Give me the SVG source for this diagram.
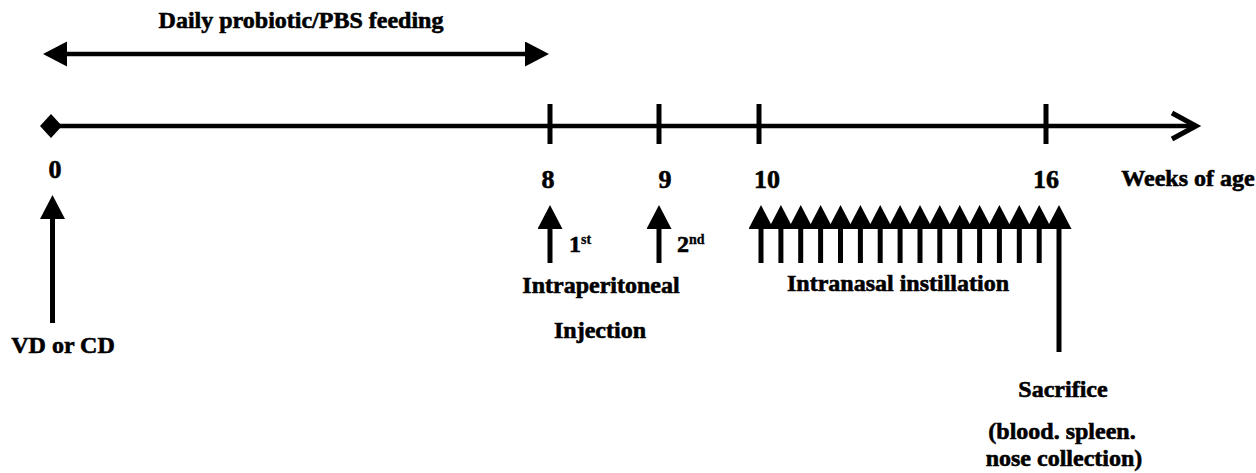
<svg xmlns="http://www.w3.org/2000/svg" width="1256" height="473" viewBox="0 0 1256 473">
<style>
text{font-family:"Liberation Serif","Times New Roman",serif;font-weight:bold;fill:#000;stroke:#000;stroke-width:0.6;}
.lbl{font-size:24px;}
.num{font-size:26px;}
.sup{font-size:14px;stroke-width:0.3;}
.ln{stroke:#000;stroke-width:4.5;fill:none;}
.sh{stroke:#000;stroke-width:5;fill:none;}
</style>
<defs>
<marker id="tri" markerUnits="userSpaceOnUse" markerWidth="24" markerHeight="26" refX="0" refY="12.5" orient="auto-start-reverse" viewBox="0 0 24 26">
<path d="M0,0 L24,12.5 L0,25 Z" fill="#000"/>
</marker>
</defs>
<rect width="1256" height="473" fill="#fff"/>

<g id="feeding">
<line class="ln" x1="67" y1="54" x2="525" y2="54" marker-start="url(#tri)" marker-end="url(#tri)"/>
<text class="lbl" x="301" y="28" text-anchor="middle">Daily probiotic/PBS feeding</text>
</g>

<g id="connectors">
<g id="timeline">
<path d="M40,126 L51,114 L62,126 L51,138 Z" fill="#000"/>
<line class="ln" x1="55" y1="126" x2="1194" y2="126"/>
<path d="M1172,113 L1196,126 L1172,139" class="sh" stroke-linejoin="miter"/>
<line class="sh" x1="550" y1="104" x2="550" y2="144"/>
<line class="sh" x1="659" y1="104" x2="659" y2="144"/>
<line class="sh" x1="759" y1="104" x2="759" y2="144"/>
<line class="sh" x1="1046" y1="104" x2="1046" y2="144"/>
</g>
<g id="arrow-birth"><line class="sh" x1="52.5" y1="323" x2="52.5" y2="219" marker-end="url(#tri)"/></g>
<g id="arrow-ip1"><line class="sh" x1="550" y1="263" x2="550" y2="229" marker-end="url(#tri)"/></g>
<g id="arrow-ip2"><line class="sh" x1="659" y1="263" x2="659" y2="229" marker-end="url(#tri)"/></g>
<g id="arrows-intranasal">
<line class="sh" x1="761" y1="263" x2="761" y2="229" marker-end="url(#tri)"/>
<line class="sh" x1="780.9" y1="263" x2="780.9" y2="229" marker-end="url(#tri)"/>
<line class="sh" x1="800.7" y1="263" x2="800.7" y2="229" marker-end="url(#tri)"/>
<line class="sh" x1="820.6" y1="263" x2="820.6" y2="229" marker-end="url(#tri)"/>
<line class="sh" x1="840.5" y1="263" x2="840.5" y2="229" marker-end="url(#tri)"/>
<line class="sh" x1="860.4" y1="263" x2="860.4" y2="229" marker-end="url(#tri)"/>
<line class="sh" x1="880.2" y1="263" x2="880.2" y2="229" marker-end="url(#tri)"/>
<line class="sh" x1="900.1" y1="263" x2="900.1" y2="229" marker-end="url(#tri)"/>
<line class="sh" x1="920" y1="263" x2="920" y2="229" marker-end="url(#tri)"/>
<line class="sh" x1="939.8" y1="263" x2="939.8" y2="229" marker-end="url(#tri)"/>
<line class="sh" x1="959.7" y1="263" x2="959.7" y2="229" marker-end="url(#tri)"/>
<line class="sh" x1="979.6" y1="263" x2="979.6" y2="229" marker-end="url(#tri)"/>
<line class="sh" x1="999.4" y1="263" x2="999.4" y2="229" marker-end="url(#tri)"/>
<line class="sh" x1="1019.3" y1="263" x2="1019.3" y2="229" marker-end="url(#tri)"/>
<line class="sh" x1="1039.2" y1="263" x2="1039.2" y2="229" marker-end="url(#tri)"/>
<line class="sh" x1="1059" y1="352" x2="1059" y2="229" marker-end="url(#tri)"/>
</g>
</g>

<g id="week-labels">
<text class="num" x="55" y="178" text-anchor="middle">0</text>
<text class="num" x="548" y="188" text-anchor="middle">8</text>
<text class="num" x="665" y="188" text-anchor="middle">9</text>
<text class="num" x="767" y="188" text-anchor="middle">10</text>
<text class="num" x="1046" y="188" text-anchor="middle">16</text>
<text class="lbl" x="1188" y="186" text-anchor="middle">Weeks of age</text>
</g>

<g id="birth"><text class="lbl" x="63" y="353" text-anchor="middle">VD or CD</text></g>

<g id="ip-injection">
<text class="lbl" x="569" y="252">1<tspan class="sup" dy="-8">st</tspan></text>
<text class="lbl" x="677" y="252">2<tspan class="sup" dy="-8">nd</tspan></text>
<text class="lbl" x="601" y="293" text-anchor="middle">Intraperitoneal</text>
<text class="lbl" x="600" y="338" text-anchor="middle">Injection</text>
</g>

<g id="intranasal"><text class="lbl" x="898" y="291" text-anchor="middle">Intranasal instillation</text></g>

<g id="sacrifice">
<text class="lbl" x="1063" y="397" text-anchor="middle">Sacrifice</text>
<text class="lbl" x="1062" y="439" text-anchor="middle">(blood. spleen.</text>
<text class="lbl" x="1064" y="466" text-anchor="middle">nose collection)</text>
</g>
</svg>
